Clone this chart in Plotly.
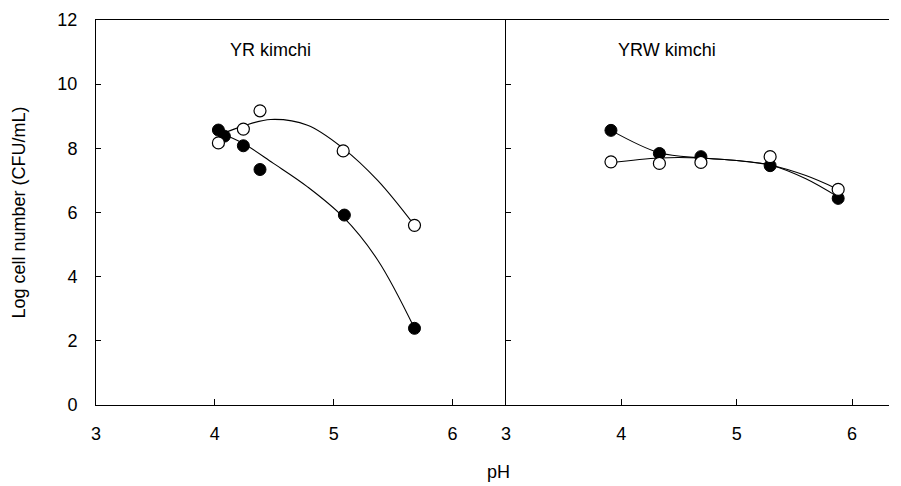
import plotly.graph_objects as go
from plotly.subplots import make_subplots

# ---- data ----
# Left panel: YR kimchi
yr_open_ph = [4.03, 4.24, 4.38, 5.08, 5.68]
yr_open_log = [8.17, 8.60, 9.17, 7.92, 5.60]
yr_fill_ph = [4.03, 4.08, 4.24, 4.38, 5.09, 5.68]
yr_fill_log = [8.57, 8.38, 8.08, 7.34, 5.92, 2.39]
# fitted curves
yr_open_fit_ph = [4.06, 4.24, 4.47, 4.78, 5.08, 5.37, 5.68]
yr_open_fit_log = [8.45, 8.70, 8.90, 8.72, 8.00, 7.00, 5.60]
yr_fill_fit_ph = [4.03, 4.24, 4.49, 4.78, 5.08, 5.37, 5.68]
yr_fill_fit_log = [8.50, 8.15, 7.54, 6.80, 5.86, 4.52, 2.39]

# Right panel: YRW kimchi
yrw_open_ph = [3.91, 4.33, 4.69, 5.29, 5.88]
yrw_open_log = [7.58, 7.53, 7.56, 7.74, 6.72]
yrw_fill_ph = [3.91, 4.33, 4.69, 5.29, 5.88]
yrw_fill_log = [8.56, 7.84, 7.74, 7.46, 6.44]
yrw_open_fit_ph = [3.91, 4.33, 4.69, 5.00, 5.29, 5.60, 5.88]
yrw_open_fit_log = [7.55, 7.70, 7.70, 7.62, 7.48, 7.15, 6.72]
yrw_fill_fit_ph = [3.91, 4.33, 4.69, 5.00, 5.29, 5.60, 5.88]
yrw_fill_fit_log = [8.56, 7.86, 7.70, 7.62, 7.48, 7.05, 6.48]

x_ticks = [3, 4, 5, 6]
y_ticks = [0, 2, 4, 6, 8, 10, 12]

fig = make_subplots(rows=1, cols=2, horizontal_spacing=0)

line_style = dict(color="black", width=1.1, shape="spline")
open_marker = dict(symbol="circle", size=12, color="white", line=dict(color="black", width=1.2))
fill_marker = dict(symbol="circle", size=12, color="black", line=dict(color="black", width=1))

for col, (ofp, ofl, ffp, ffl, op, ol, fp, fl) in enumerate([
    (yr_open_fit_ph, yr_open_fit_log, yr_fill_fit_ph, yr_fill_fit_log,
     yr_open_ph, yr_open_log, yr_fill_ph, yr_fill_log),
    (yrw_open_fit_ph, yrw_open_fit_log, yrw_fill_fit_ph, yrw_fill_fit_log,
     yrw_open_ph, yrw_open_log, yrw_fill_ph, yrw_fill_log),
], start=1):
    fig.add_trace(go.Scatter(x=ofp, y=ofl, mode="lines", line=line_style, showlegend=False), 1, col)
    fig.add_trace(go.Scatter(x=ffp, y=ffl, mode="lines", line=line_style, showlegend=False), 1, col)
    fig.add_trace(go.Scatter(x=fp, y=fl, mode="markers", marker=fill_marker, showlegend=False), 1, col)
    fig.add_trace(go.Scatter(x=op, y=ol, mode="markers", marker=open_marker, showlegend=False), 1, col)

font = dict(family="Liberation Sans, Arial, sans-serif", size=18, color="black")

# page body has an 8px margin: figure is drawn at (8, 8)
fig_w, fig_h = 893, 478
ml, mt, mb = 88, 12, 81
plot_w = fig_w - ml
plot_h = fig_h - mt - mb
left_w = 410 / plot_w
right_end = 0.985
fig.update_layout(
    width=fig_w, height=fig_h,
    margin=dict(l=ml, r=0, t=mt, b=mb),
    plot_bgcolor="white", paper_bgcolor="white",
    font=font,
    xaxis=dict(domain=[0, left_w], range=[3, 6.45], tickvals=x_ticks, ticks="inside", ticklen=6,
               tickcolor="black", showline=True, linecolor="black", linewidth=1, mirror=True,
               showgrid=False, zeroline=False, ticklabelstandoff=12, automargin=False),
    xaxis2=dict(domain=[left_w, right_end], range=[3, 6.32], tickvals=x_ticks, ticks="inside",
                ticklen=6, tickcolor="black", showline=True, linecolor="black", linewidth=1,
                mirror=True, showgrid=False, zeroline=False, ticklabelstandoff=12,
                automargin=False),
    yaxis=dict(range=[0, 12], tickvals=y_ticks, ticks="inside", ticklen=5, tickcolor="black",
               showline=True, linecolor="black", linewidth=1, mirror=False, showgrid=False,
               zeroline=False, ticklabelstandoff=14, automargin=False),
    yaxis2=dict(range=[0, 12], tickvals=y_ticks, ticks="inside", ticklen=5, tickcolor="black",
                showticklabels=False, showline=True, linecolor="black", linewidth=1,
                mirror=False, showgrid=False, zeroline=False, automargin=False),
    annotations=[
        dict(text="Log cell number (CFU/mL)", x=-78 / plot_w, y=0.5, xref="paper", yref="paper",
             showarrow=False, textangle=-90, xanchor="center", yanchor="middle", font=font),
        dict(text="pH", x=0.5, y=-67 / plot_h, xref="paper", yref="paper",
             showarrow=False, xanchor="center", yanchor="middle", font=font),
        dict(text="YR kimchi", x=4.47, y=11.05, xref="x", yref="y", showarrow=False,
             xanchor="center", yanchor="middle", font=font),
        dict(text="YRW kimchi", x=4.4, y=11.05, xref="x2", yref="y2", showarrow=False,
             xanchor="center", yanchor="middle", font=font),
    ],
)

fig.write_html("out.html")
